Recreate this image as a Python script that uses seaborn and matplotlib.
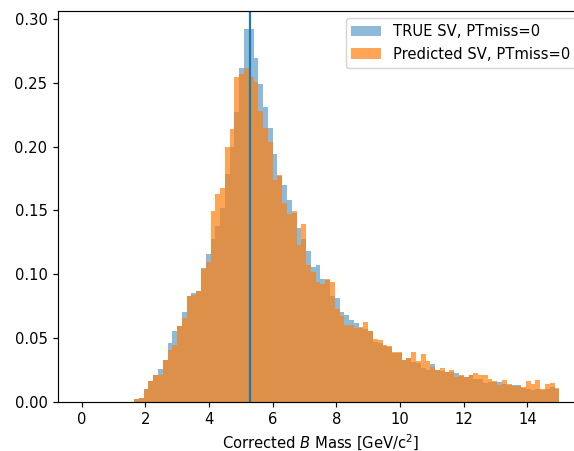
import numpy as np
import pandas as pd
import matplotlib
matplotlib.use("Agg")
import matplotlib.pyplot as plt
import seaborn as sns

# Histogram binning (100 bins over 0..15 GeV/c^2)
bin_lo, bin_hi, n_bins = 0.0, 15.0, 100
b_mass = 5.279

# Normalised bin heights
true_sv = [
    0.0, 0.0, 0.0, 0.0, 0.0, 0.0, 0.0, 0.0, 0.0, 0.0,
    0.0, 0.0018, 0.003, 0.0102, 0.016, 0.021, 0.0258, 0.0328, 0.0458, 0.0552,
    0.059, 0.0706, 0.0826, 0.085, 0.0865, 0.105, 0.1156, 0.128, 0.138, 0.152,
    0.179, 0.200, 0.2276, 0.2615, 0.292, 0.292, 0.270, 0.249, 0.231, 0.215,
    0.1945, 0.177, 0.170, 0.1586, 0.148, 0.1365, 0.128, 0.118, 0.106, 0.107,
    0.0966, 0.0955, 0.083, 0.081, 0.070, 0.068, 0.0643, 0.0617, 0.058, 0.057,
    0.0555, 0.047, 0.046, 0.044, 0.043, 0.0385, 0.0385, 0.033, 0.034, 0.031,
    0.030, 0.0263, 0.025, 0.0294, 0.025, 0.0237, 0.0232, 0.0232, 0.0227, 0.0205,
    0.019, 0.021, 0.018, 0.018, 0.0148, 0.0154, 0.0154, 0.0154, 0.0135, 0.013,
    0.0128, 0.0128, 0.011, 0.0102, 0.0089, 0.0102, 0.0095, 0.0102, 0.0115, 0.010,
]
pred_sv = [
    0.0, 0.0, 0.0, 0.0, 0.0, 0.0, 0.0, 0.0, 0.0, 0.0,
    0.0, 0.0018, 0.003, 0.0102, 0.016, 0.021, 0.021, 0.0328, 0.0406, 0.0448,
    0.059, 0.0656, 0.0826, 0.0836, 0.0865, 0.104, 0.1096, 0.1495, 0.163, 0.1677,
    0.200, 0.214, 0.2545, 0.257, 0.262, 0.255, 0.251, 0.228, 0.215, 0.204,
    0.174, 0.178, 0.156, 0.147, 0.1495, 0.123, 0.1396, 0.107, 0.102, 0.094,
    0.092, 0.096, 0.094, 0.0727, 0.0674, 0.060, 0.060, 0.0578, 0.0583, 0.0627,
    0.0557, 0.049, 0.0484, 0.0448, 0.0435, 0.039, 0.039, 0.033, 0.034, 0.039,
    0.032, 0.0375, 0.032, 0.0276, 0.0245, 0.0263, 0.0232, 0.0245, 0.0193, 0.0211,
    0.0193, 0.0206, 0.0227, 0.0206, 0.021, 0.018, 0.0165, 0.0128, 0.017, 0.0135,
    0.0122, 0.012, 0.0114, 0.0159, 0.0141, 0.0172, 0.0102, 0.0141, 0.0148, 0.0107,
]
labels = ["TRUE SV, PTmiss=0", "Predicted SV, PTmiss=0"]

edges = np.linspace(bin_lo, bin_hi, n_bins + 1)
centers = 0.5 * (edges[:-1] + edges[1:])
df = pd.DataFrame({"mass": centers, "true": true_sv, "pred": pred_sv})

DPI = 106
fig = plt.figure(figsize=(574 / DPI, 451 / DPI), dpi=DPI)
ax = fig.add_axes([0.1005, 0.1093, 0.9155, 0.8663])

sns.histplot(data=df, x="mass", weights="true", bins=n_bins,
             binrange=(bin_lo, bin_hi), stat="count",
             color="#1f77b4", alpha=0.5, linewidth=0, edgecolor="none",
             label=labels[0], ax=ax)
sns.histplot(data=df, x="mass", weights="pred", bins=n_bins,
             binrange=(bin_lo, bin_hi), stat="count",
             color="#ff7f0e", alpha=0.7, linewidth=0, edgecolor="none",
             label=labels[1], ax=ax)
ax.axvline(b_mass, color="#1f77b4", linewidth=1.5)

ax.set_xlim(-0.75, 15.75)
ax.set_ylim(0, 0.3065)
ax.set_xticks(np.arange(0, 15, 2))
ax.set_yticks(np.arange(0, 0.31, 0.05))
ax.yaxis.set_major_formatter(matplotlib.ticker.FormatStrFormatter("%.2f"))
ax.set_xlabel("Corrected $B$ Mass [GeV/c$^2$]")
ax.set_ylabel("")
ax.legend(loc="upper right")

fig.savefig("out.png", dpi=DPI)
